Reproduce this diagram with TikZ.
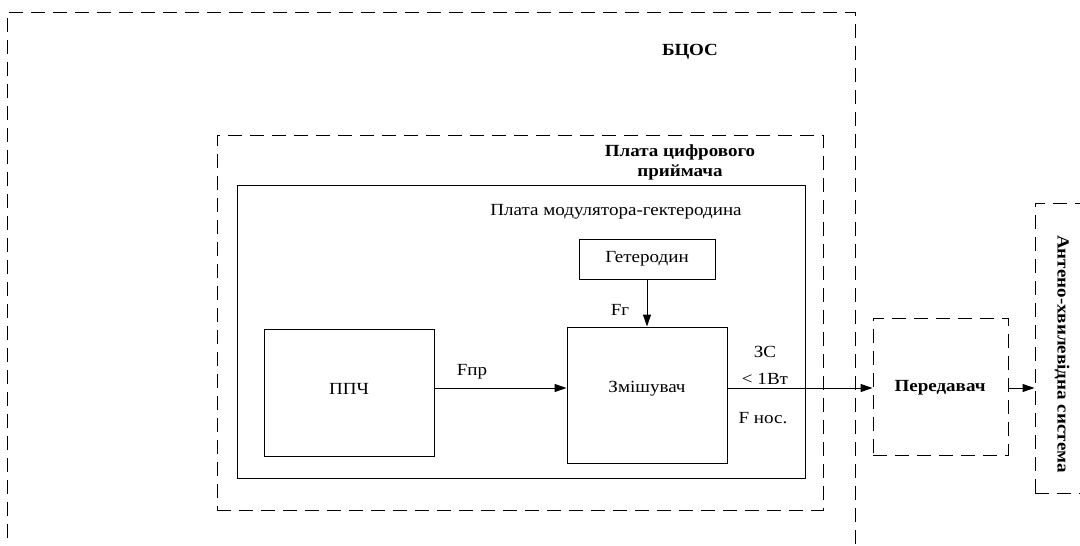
\documentclass[tikz,border=0pt]{standalone}
\usepackage{fontspec}
\setmainfont{Liberation Serif}[FakeStretch=1.12]
\usetikzlibrary{arrows.meta,positioning}

\begin{document}
\begin{tikzpicture}[x=1pt, y=-1pt, line width=1pt,
  every node/.style={font=\fontsize{17}{20}\selectfont},
  bold/.style={font=\fontsize{17}{20}\selectfont\bfseries},
  blk/.style={draw, inner sep=0pt},
  dbox/.style={draw, inner sep=0pt, dash pattern=on 14pt off 8pt},
  sig/.style={-{Triangle[length=12pt,width=8pt]}}]
  \useasboundingbox (0,0) rectangle (1080,546);
  \clip (0,0) rectangle (1080,546);

  % outer block, open at the bottom
  \draw[dash pattern=on 14pt off 8pt] (7,560) -- (7,12) -- (855,12) -- (855,560);
  \node[bold] (bcos) at (690,52) {БЦОС};

  \node[dbox, minimum width=606pt, minimum height=375pt] (cifr) at (520,322.5) {};
  \node[bold, align=center] (cifrt) at (680,162) {Плата цифрового\\приймача};

  \node[blk, minimum width=568pt, minimum height=293pt] (mod) at (521,331.5) {};
  \node (modt) at (616,212) {Плата модулятора-гектеродина};

  \node[blk, minimum width=136pt, minimum height=40pt] (get) at (647,259) {Гетеродин};
  \node[blk, minimum width=160pt, minimum height=136pt] (zmish) at (647,395) {};
  \node (zmisht) at (647,389) {Змішувач};
  \node[blk, minimum width=170pt, minimum height=127pt] (ppch) at (349,392.5) {};
  \node (ppcht) at (349,389) {ППЧ};

  \node[dbox, minimum width=135pt, minimum height=137pt] (perd) at (940.5,386.5) {};
  \node[bold] (perdt) at (940,388) {Передавач};

  \node[dbox, minimum width=80pt, minimum height=290pt] (ant) at (1075,348) {};
  \node[bold, rotate=-90] (antt) at (1062,354) {Антено-хвилевідна система};

  \coordinate (s1) at ([yshift=4.5pt]ppch.east);
  \draw[sig] (s1) -- (s1 -| zmish.west);
  \draw[sig] (s1 -| zmish.east) -- (s1 -| perd.west);
  \draw[sig] (s1 -| perd.east) -- (s1 -| ant.west);
  \draw[sig] (get) -- (get |- zmish.north);

  \node (fpr) at (472,372) {Fпр};
  \node (fg) at (620,310) {Fг};
  \node (zs) at (765,352) {ЗС};
  \node (pw) at (765,379) {< 1Вт};
  \node (fnos) at (763,418) {F нос.};
\end{tikzpicture}
\end{document}
